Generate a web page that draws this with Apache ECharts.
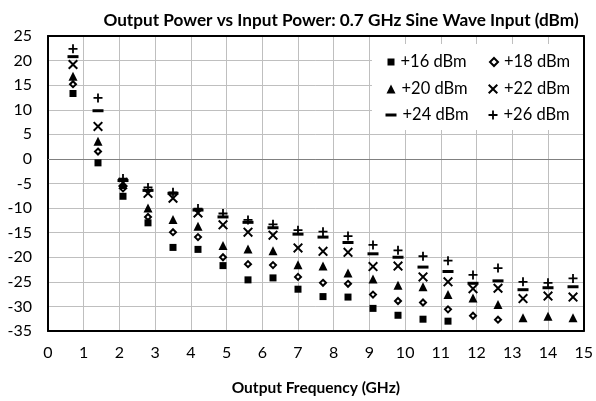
<!DOCTYPE html>
<html><head><meta charset="utf-8">
<script src="https://cdn.jsdelivr.net/npm/echarts@6/dist/echarts.min.js"></script>
<style>html,body{margin:0;padding:0;background:#fff}#c{width:596px;height:401px}</style>
</head><body><div id="c"></div>
<script>
const freqs = [0.7,1.4,2.1,2.8,3.5,4.2,4.9,5.6,6.3,7.0,7.7,8.4,9.1,9.8,10.5,11.2,11.9,12.6,13.3,14.0,14.7];
const p16 = [13.3,-0.8,-7.6,-13.0,-18.0,-18.4,-21.7,-24.6,-24.2,-26.5,-28.0,-28.1,-30.4,-31.8,-32.6,-33.0,null,null,null,null,null];
const p18 = [15.2,1.5,-6.0,-11.8,-14.9,-15.9,-20.0,-21.4,-21.6,-24.0,-25.2,-25.4,-27.6,-28.9,-29.2,-30.6,-31.9,-32.7,null,null,null];
const p20 = [16.8,3.6,-5.2,-10.0,-12.3,-13.7,-17.6,-18.3,-18.7,-21.5,-21.8,-23.2,-24.4,-25.7,-26.0,-27.6,-28.3,-29.6,-32.3,-32.0,-32.3];
const p22 = [19.2,6.6,-4.8,-7.0,-8.0,-11.0,-13.4,-14.9,-15.5,-18.1,-18.8,-19.0,-21.9,-21.8,-24.0,-25.0,-26.4,-26.3,-28.4,-27.9,-28.1];
const p24 = [20.8,9.8,-4.4,-6.4,-7.0,-10.4,-11.8,-12.9,-14.0,-15.3,-15.9,-17.0,-19.3,-20.0,-22.0,-22.9,-25.3,-24.8,-26.6,-26.2,-26.0];
const p26 = [22.4,12.4,-4.0,-5.8,-6.8,-10.1,-11.1,-12.4,-13.3,-14.5,-14.8,-15.7,-17.5,-18.6,-19.8,-20.7,-23.6,-22.2,-25.0,-25.2,-24.3];
const names = ['+16 dBm','+18 dBm','+20 dBm','+22 dBm','+24 dBm','+26 dBm'];
const xTicks = [0,1,2,3,4,5,6,7,8,9,10,11,12,13,14,15];
const yTicks = [-35,-30,-25,-20,-15,-10,-5,0,5,10,15,20,25];

const FONT = 'Lato';
const PLUS = 'path://M4,0H6V4H10V6H6V10H4V6H0V4H4Z';
const XS = 'path://M0,1.4L1.4,0L5,3.6L8.6,0L10,1.4L6.4,5L10,8.6L8.6,10L5,6.4L1.4,10L0,8.6L3.6,5Z';
const DASH = 'path://M0,0H11V3H0Z';
const sym = [
  {symbol:'rect', size:7, style:{color:'#000', opacity:1}},
  {symbol:'diamond', size:6, style:{color:'#fff', borderColor:'#000', borderWidth:2, opacity:1}},
  {symbol:'triangle', size:[9,9], style:{color:'#000', opacity:1}},
  {symbol:XS, size:10, style:{color:'#000', opacity:1}},
  {symbol:DASH, size:[11,3], style:{color:'#000', opacity:1}},
  {symbol:PLUS, size:9, style:{color:'#000', opacity:1}}
];
const all = [p16,p18,p20,p22,p24,p26];
const series = all.map((arr,i)=>({
  name:names[i], type:'scatter', symbol:sym[i].symbol, symbolSize:sym[i].size,
  itemStyle:sym[i].style, z:3,
  data: freqs.map((f,j)=>arr[j]===null?null:[f,arr[j]]).filter(d=>d)
}));
series[0].markLine = {silent:true, symbol:'none', label:{show:false}, z:1,
  lineStyle:{color:'#808080', width:1, type:'solid'}, data:[{yAxis:0}]};

const legPos = [[391,62],[493,62],[391,89],[493,89],[391,115],[493,115]];
const legIcon = [[7,7],[8,8],[9,9],[10,10],[11,3],[9,9]];
const legends = names.map((n,i)=>({
  data:[n], left:legPos[i][0]-legIcon[i][0]/2, top:legPos[i][1]-9, padding:0,
  itemWidth:legIcon[i][0], itemHeight:legIcon[i][1], itemGap:0, z:5,
  selectedMode:false,
  textStyle:{fontFamily:FONT, fontSize:16.5, color:'#000', padding:[0,0,0,1], lineHeight:18}
}));

const axLine = {show:true, onZero:false, lineStyle:{color:'#000', width:2}};
const chart = echarts.init(document.getElementById('c'), null, {renderer:'canvas'});
chart.setOption({
  animation:false,
  backgroundColor:'#fff',
  title:{text:'Output Power vs Input Power: 0.7 GHz Sine Wave Input (dBm)', left:336, top:7,
    textAlign:'center',
    textStyle:{fontFamily:FONT, fontSize:17.2, fontWeight:'bold', color:'#000'}},
  grid:{left:48, right:10, top:36, bottom:69, show:true, borderColor:'#000', borderWidth:0, backgroundColor:'#fff', containLabel:false},
  graphic:[{type:'rect', shape:{x:372, y:44, width:212, height:86}, style:{fill:'#fff'}, z:4}],
  legend:legends,
  xAxis:[{type:'value', min:xTicks[0], max:xTicks[xTicks.length-1], interval:1,
    name:'Output Frequency (GHz)', nameLocation:'middle', nameGap:49,
    nameTextStyle:{fontFamily:FONT, fontSize:15.5, fontWeight:'bold', color:'#000'},
    axisLine:axLine, axisTick:{show:false},
    axisLabel:{fontFamily:FONT, fontSize:16, color:'#000', margin:14},
    splitLine:{show:true, showMinLine:false, showMaxLine:false, lineStyle:{color:'#bfbfbf', width:1}}},
    {type:'value', position:'top', min:xTicks[0], max:xTicks[xTicks.length-1], interval:1,
    axisLine:axLine, axisTick:{show:false}, axisLabel:{show:false}, splitLine:{show:false}, z:6}],
  yAxis:[{type:'value', min:yTicks[0], max:yTicks[yTicks.length-1], interval:5,
    axisLine:axLine, axisTick:{show:false},
    axisLabel:{fontFamily:FONT, fontSize:16, color:'#000', margin:16},
    splitLine:{show:true, showMinLine:false, showMaxLine:false, lineStyle:{color:'#bfbfbf', width:1}}},
    {type:'value', position:'right', min:yTicks[0], max:yTicks[yTicks.length-1], interval:5,
    axisLine:axLine, axisTick:{show:false}, axisLabel:{show:false}, splitLine:{show:false}, z:6}],
  series:series
});
</script></body></html>
